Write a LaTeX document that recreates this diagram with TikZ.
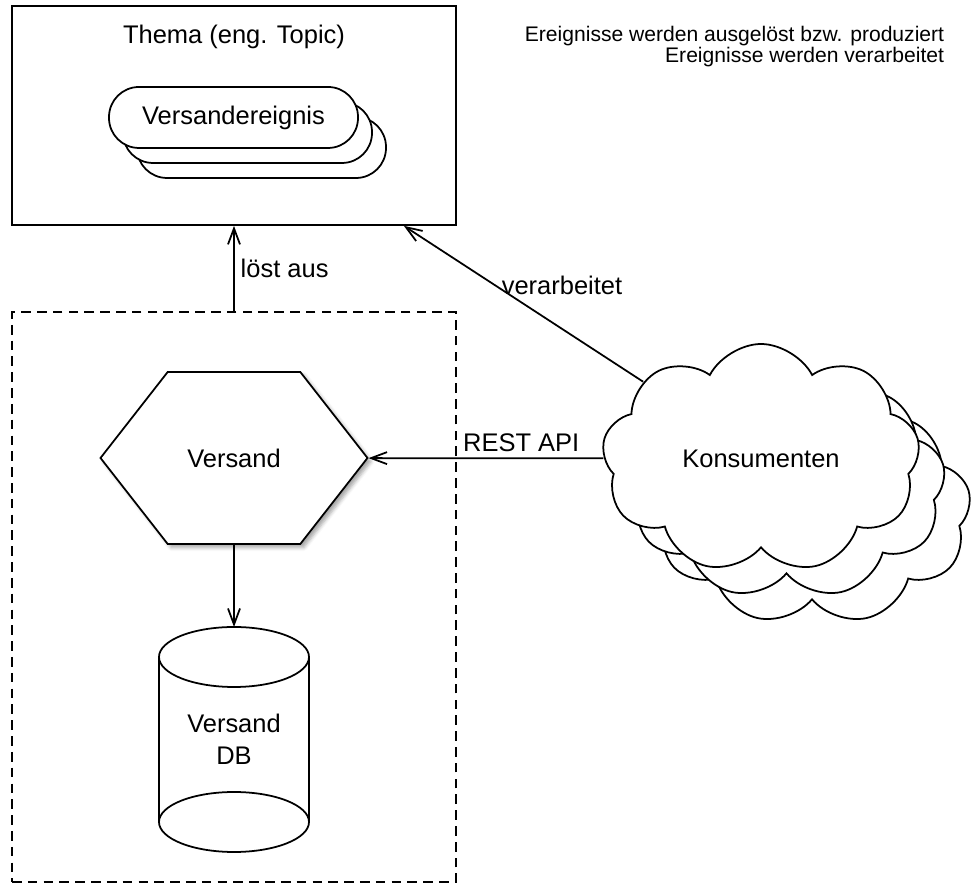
\documentclass[tikz,border=0pt]{standalone}
\usepackage{fontspec}
\setmainfont{Liberation Sans}
\usetikzlibrary{arrows.meta,shapes.symbols,shadows.blur}

\begin{document}
\begin{tikzpicture}[
  line width=1pt,
  font=\fontsize{14.5}{18}\selectfont,
  arrow/.style={-{Straight Barb[length=3.2mm,width=2.4mm]}},
  eventbox/.style={draw,fill=white,rounded corners=0.6cm,minimum width=4.98cm,minimum height=1.22cm},
  consumer/.style={draw,fill=white,cloud,cloud puffs=9,cloud puff arc=125,cloud ignores aspect,minimum width=6.36cm,minimum height=4.58cm}
]
 \useasboundingbox (0,0) rectangle (19.44,17.68);
 \node[draw,minimum width=8.88cm,minimum height=4.38cm] (topic) at (4.68,15.37) {};
 \node (topictitle) at (4.68,16.94) {Thema (eng. Topic)};
 \node[eventbox] (event3) at (5.23,14.73) {};
 \node[eventbox] (event2) at (4.95,15.03) {};
 \node[eventbox] (event) at (4.67,15.33) {Versandereignis};
 \node[anchor=east,align=right,inner sep=0,font=\fontsize{12}{12}\selectfont] (legend) at (18.9,16.75) {Ereignisse werden ausgelöst bzw. produziert\\Ereignisse werden verarbeitet};

 \node[draw,dash pattern=on 5.5pt off 3.5pt,minimum width=8.88cm,minimum height=11.40cm] (service) at (4.68,5.74) {};
 \draw[arrow] (service.north) -- node[right] {löst aus} (topic.south);

 \node[draw,fill=white,signal,signal to=east and west,signal pointer angle=104,minimum width=5.34cm,minimum height=3.44cm,
   blur shadow={shadow xshift=2pt,shadow yshift=-2pt,shadow blur radius=2pt,shadow opacity=35}] (versand) at (4.68,8.52) {Versand};

 \node[minimum width=3cm,minimum height=3.3cm,outer sep=0,align=center] (db) at (4.68,2.89) {Versand\\DB};
 \draw (db.north west) -- (db.south west) (db.north east) -- (db.south east);
 \draw (db.north) ellipse (1.5 and 0.6);
 \draw (db.south) ellipse (1.5 and 0.6);
 \draw[arrow] (versand.south) -- ([yshift=0.6cm]db.north);

 \node[consumer] (konsumenten3) at (16.24,7.47) {};
 \node[consumer] (konsumenten2) at (15.73,7.99) {};
 \node[consumer] (konsumenten) at (15.22,8.51) {Konsumenten};
 \draw[arrow] (konsumenten) -- node[above,pos=0.35] {REST API} (versand);
 \coordinate (topicin) at ([xshift=-1.06cm]topic.south east);
 \draw[arrow] (konsumenten) -- (topicin);
 \node (verarbeitetlabel) at (11.24,11.98) {verarbeitet};
\end{tikzpicture}
\end{document}
